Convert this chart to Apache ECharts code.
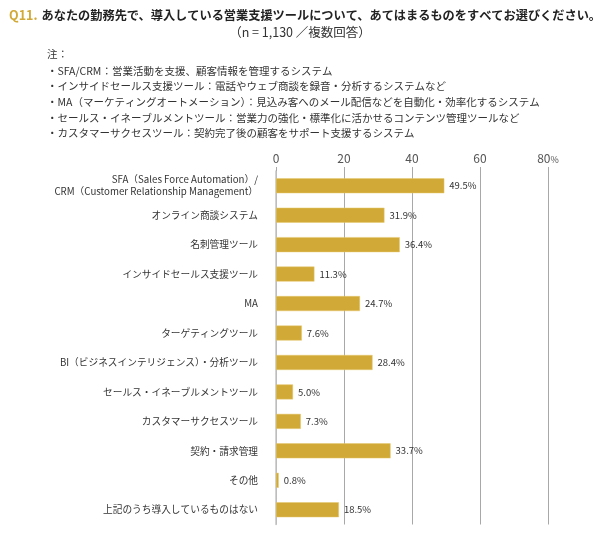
<!DOCTYPE html>
<html lang="ja">
<head>
<meta charset="UTF-8">
<title>Q11 営業支援ツール</title>
<script src="https://cdn.jsdelivr.net/npm/echarts@6/dist/echarts.min.js"></script>
<style>
    body { margin: 0; padding: 0; background: #fff; overflow: hidden; }
    #chart { width: 600px; height: 538px; }
</style>
</head>
<body>
<div id="chart"></div>
<script>
// 選択肢（上から順）
const categories = [
    'SFA（Sales Force Automation）/\nCRM（Customer Relationship Management）',
    'オンライン商談システム',
    '名刺管理ツール',
    'インサイドセールス支援ツール',
    'MA',
    'ターゲティングツール',
    'BI（ビジネスインテリジェンス）・分析ツール',
    'セールス・イネーブルメントツール',
    'カスタマーサクセスツール',
    '契約・請求管理',
    'その他',
    '上記のうち導入しているものはない'
];
const values = [49.5, 31.9, 36.4, 11.3, 24.7, 7.6, 28.4, 5.0, 7.3, 33.7, 0.8, 18.5];
const tickLabels = ['0', '20', '40', '60', '80'];

const question = 'あなたの勤務先で、導入している営業支援ツールについて、あてはまるものをすべてお選びください。';
const subtitle = '（n = 1,130 ／複数回答）';
const noteHead = '注：';
const notes = [
    '・SFA/CRM：営業活動を支援、顧客情報を管理するシステム',
    '・インサイドセールス支援ツール：電話やウェブ商談を録音・分析するシステムなど',
    '・MA（マーケティングオートメーション）：見込み客へのメール配信などを自動化・効率化するシステム',
    '・セールス・イネーブルメントツール：営業力の強化・標準化に活かせるコンテンツ管理ツールなど',
    '・カスタマーサクセスツール：契約完了後の顧客をサポート支援するシステム'
];

const font = '"Noto Sans CJK JP", "Noto Sans", sans-serif';
const gold = '#d1a936';

const ec = echarts.init(document.getElementById('chart'), null, { renderer: 'canvas' });

ec.setOption({
    backgroundColor: '#fff',
    textStyle: { fontFamily: font },
    animation: false,
    title: [
        {
            text: '{q|Q11.} {t|' + question + '}',
            left: 4, top: 1,
            textStyle: {
                rich: {
                    q: { color: gold, fontSize: 12.5, fontWeight: 'bold', fontFamily: font },
                    t: { color: '#222', fontSize: 12.2, fontWeight: 'bold', fontFamily: font }
                }
            }
        },
        {
            text: subtitle,
            left: 'center', top: 21,
            textStyle: { color: '#333', fontSize: 12.5, fontWeight: 'normal', fontFamily: font }
        },
        {
            text: noteHead,
            left: 42, top: 41,
            textStyle: { color: '#333', fontSize: 10.5, fontWeight: 'normal', lineHeight: 16, fontFamily: font }
        },
        {
            text: notes.join('\n'),
            left: 42, top: 58,
            textStyle: { color: '#333', fontSize: 10.5, fontWeight: 'normal', lineHeight: 15.6, fontFamily: font }
        }
    ],
    grid: { left: 276, right: 52, top: 171, height: 353.5, containLabel: false },
    xAxis: {
        type: 'value',
        position: 'top',
        min: 0, max: 80, interval: 20,
        axisLine: { show: false },
        axisTick: { show: true, length: 4, lineStyle: { color: '#a8a8a8', width: 1 } },
        splitLine: { show: true, lineStyle: { color: '#a8a8a8', width: 1 } },
        axisLabel: {
            margin: 7,
            fontSize: 12,
            color: '#555',
            fontFamily: font,
            formatter: (v) => {
                const i = Math.round(v / 20);
                return i === tickLabels.length - 1 ? tickLabels[i] + '{p|%}' : tickLabels[i];
            },
            rich: { p: { fontSize: 9, color: '#555', fontFamily: font, padding: [3, 0, 0, 0] } }
        }
    },
    yAxis: {
        type: 'category',
        inverse: true,
        data: categories,
        axisLine: { show: true, lineStyle: { color: '#c4c4c4', width: 1.5 } },
        axisTick: { show: false },
        axisLabel: {
            margin: 18,
            fontSize: 9.7,
            color: '#333',
            lineHeight: 12,
            fontFamily: font
        }
    },
    series: [{
        type: 'bar',
        data: values,
        barWidth: 15,
        itemStyle: { color: gold, borderColor: '#e6c870', borderWidth: 0.5 },
        label: {
            show: true,
            position: 'right',
            distance: 5,
            fontSize: 9.5,
            color: '#333',
            fontFamily: font,
            formatter: (p) => p.value.toFixed(1) + '%'
        }
    }]
});
</script>
</body>
</html>
